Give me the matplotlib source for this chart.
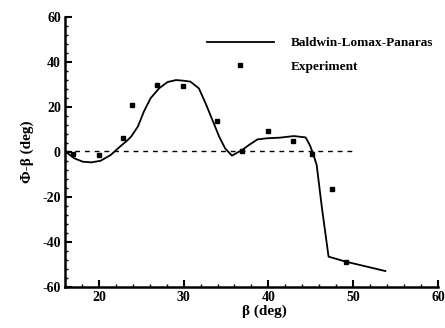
import matplotlib
matplotlib.use("Agg")
import matplotlib.pyplot as plt
from matplotlib.ticker import MultipleLocator

# Baldwin-Lomax-Panaras curve
model_beta = [16.1, 17.1, 18.1, 19.1, 20.2, 21.4, 22.4, 23.4, 23.8, 24.6, 25.3, 26.1,
              27.1, 28.1, 29.1, 30.0, 30.8, 31.8, 32.6, 33.4, 34.2, 34.9, 35.7, 36.9,
              37.7, 38.7, 39.8, 41.4, 43.0, 44.4, 44.9, 45.3, 45.7, 46.3, 47.1, 49.1, 53.8]
model_phi = [0.1, -2.8, -4.3, -4.6, -3.9, -1.3, 2.1, 5.3, 6.8, 11.3, 17.9, 23.9,
             28.3, 31.1, 32.0, 31.7, 31.3, 28.3, 21.6, 14.2, 6.8, 1.6, -1.6, 0.9,
             3.1, 5.6, 6.1, 6.4, 7.1, 6.5, 3.0, -1.0, -5.8, -24.3, -46.5, -48.7, -52.9]

# Experiment
exp_beta = [16.9, 20.0, 22.9, 23.9, 26.9, 29.9, 33.9, 36.9, 39.9, 42.9, 45.1, 47.5, 49.1]
exp_phi = [-0.9, -1.5, 6.2, 21.0, 30.0, 29.3, 13.8, 0.4, 9.3, 4.9, -1.0, -16.4, -48.9]

zero_beta = [16, 50]
zero_phi = [0.3, 0.3]

plt.rcParams['font.family'] = ['Liberation Serif', 'DejaVu Serif']
plt.rcParams['axes.unicode_minus'] = False
fig = plt.figure(figsize=(4.45, 3.28), dpi=100)
ax = fig.add_axes([0.146, 0.125, 0.838, 0.823])

ax.plot(model_beta, model_phi, color='black', lw=1.3, label='Baldwin-Lomax-Panaras')
ax.plot(exp_beta, exp_phi, ls='none', marker='s', ms=3.2, color='black', label='Experiment')
ax.plot(zero_beta, zero_phi, color='black', lw=1.0, ls=(0, (3.5, 3.5)))

ax.set_xlim(16, 60)
ax.set_ylim(-60, 60)
ax.xaxis.set_major_locator(MultipleLocator(10))
ax.xaxis.set_minor_locator(MultipleLocator(2))
ax.yaxis.set_major_locator(MultipleLocator(20))
ax.yaxis.set_minor_locator(MultipleLocator(4))
for s in ['top', 'right']:
    ax.spines[s].set_visible(False)
for s in ['left', 'bottom']:
    ax.spines[s].set_linewidth(1.8)
ax.tick_params(which='major', direction='in', length=5, width=1.5, labelsize=10, pad=3)
ax.tick_params(which='minor', direction='in', length=2.5, width=1.0)
for lab in ax.get_xticklabels() + ax.get_yticklabels():
    lab.set_fontweight('bold')

ax.set_xlabel('β (deg)', fontsize=11, fontweight='bold', labelpad=1)
ax.xaxis.set_label_coords(0.535, -0.065)
ax.set_ylabel('Φ-β (deg)', fontsize=11, fontweight='bold', labelpad=6)

leg = ax.legend(loc='upper right', bbox_to_anchor=(1.02, 0.97), frameon=False,
                handlelength=5.1, handletextpad=1.3, labelspacing=0.85,
                prop={'size': 9.5, 'weight': 'bold'}, markerscale=0.7)

fig.savefig('out.png', dpi=100)
